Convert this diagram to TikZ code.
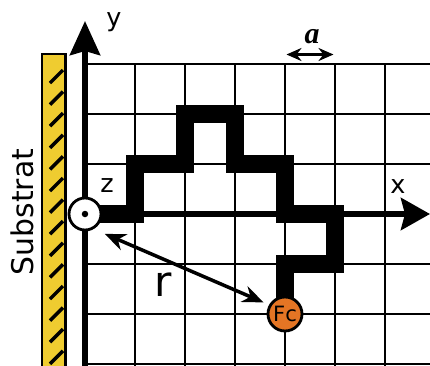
\documentclass[tikz,border=0pt]{standalone}
\usepackage{fontspec}
\setsansfont{DejaVu Sans}
\newfontfamily\serifbi{Liberation Serif}
\usepackage{xcolor}
\usepackage{tikz}
\usetikzlibrary{arrows.meta}
\definecolor{substratyellow}{RGB}{239,204,48}
\definecolor{fcorange}{RGB}{228,117,36}

\begin{document}
\begin{tikzpicture}[
  gridline/.style={line width=1.2pt},
  yaxis/.style={line width=3.4pt, -{Stealth[length=0.68cm, width=0.6cm, inset=0.08cm]}},
  xaxis/.style={line width=3.2pt, -{Stealth[length=0.58cm, width=0.64cm, inset=0.08cm]}},
  chain/.style={line width=10pt, miter limit=10},
  hatch/.style={line width=2pt},
  lbl/.style={font=\sffamily\fontsize{14.5}{14.5}\selectfont, inner sep=0pt},
  dbl/.style={line width=2pt, {Stealth[length=0.42cm, width=0.34cm]}-{Stealth[length=0.42cm, width=0.34cm]}},
  dblsmall/.style={line width=1.6pt, {Stealth[length=0.3cm, width=0.26cm]}-{Stealth[length=0.3cm, width=0.26cm]}},
  site/.style={circle, draw, line width=1.6pt, minimum size=0.64cm, inner sep=0pt}
]
\clip (-1.7,-3.02) rectangle (6.9,4.28);
% lattice
\foreach \i in {1,...,6}
  \draw[gridline] (\i,-3.1) -- (\i,3);
\foreach \j in {-3,-2,-1,1,2,3}
  \draw[gridline] (0,\j) -- (7,\j);
% substrate wall
\draw[fill=substratyellow, line width=1.6pt] (-0.86,-3.3) rectangle (-0.39,3.2);
\foreach \k in {0,...,13}
  \draw[hatch] (-0.7,{2.62-0.432*\k}) -- ++(0.26,0.26);
\node[rotate=90, font=\sffamily\fontsize{17}{17}\selectfont] (substrat) at (-1.26,0.04) {Substrat};
% axes
\coordinate (o) at (0,0);
\coordinate (ybot) at (0,-3.1);
\coordinate (ytip) at (0,3.86);
\coordinate (xtip) at (6.9,0);
\draw[yaxis] (ybot) -- (ytip);
\draw[xaxis] (o) -- (xtip);
% chain
\draw[chain] (o) -- (1,0) -- (1,1) -- (2,1) -- (2,2) -- (3,2) -- (3,1) -- (4,1)
  -- (4,0) -- (5,0) -- (5,-1) -- (4,-1) -- (4,-2);
% anchor and end group
\node[site, fill=white] (orig) at (o) {};
\fill (orig.center) circle (0.065);
\node[site, fill=fcorange, minimum size=0.68cm, font=\sffamily\fontsize{12}{12}\selectfont] (fc) at (4,-2) {Fc};
% distance
\draw[dbl, shorten <=0.24cm, shorten >=0.12cm] (orig.-60) -- (fc.150);
\node[lbl, font=\sffamily\fontsize{24}{24}\selectfont] (rlab) at (1.57,-1.41) {r};
% lattice constant
\coordinate (aleft) at (4.03,3.19);
\coordinate (aright) at (4.97,3.19);
\draw[dblsmall] (aleft) -- (aright);
\node[inner sep=0pt, font=\serifbi\bfseries\itshape\fontsize{17}{17}\selectfont] (alab) at (4.54,3.54) {a};
% axis labels
\node[lbl] (ylab) at (0.58,3.83) {y};
\node[lbl] (xlab) at (6.26,0.55) {x};
\node[lbl] (zlab) at (0.44,0.56) {z};
\end{tikzpicture}
\end{document}
